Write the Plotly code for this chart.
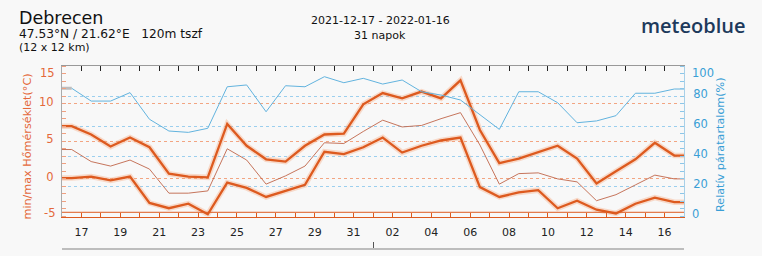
import plotly.graph_objects as go
import pandas as pd

# ---------------- data ----------------
days = pd.date_range("2021-12-16 12:00", "2022-01-16 12:00", freq="D")
t_max = [7.0, 5.9, 4.3, 5.5, 4.2, 0.7, 0.3, 0.2, 7.3, 4.4, 2.6, 2.3, 4.4, 5.9, 6.0, 9.9,
         11.4, 10.7, 11.6, 10.7, 13.1, 6.5, 2.1, 2.7, 3.6, 4.4, 2.7, -0.6, 1.0, 2.6, 4.8, 3.1]
t_mean = [3.9, 2.3, 1.7, 2.5, 1.3, -1.9, -1.9, -1.6, 4.0, 2.5, -0.7, 0.4, 1.7, 4.8, 4.7, 6.3,
          7.8, 6.9, 7.1, 8.0, 8.8, 4.5, -0.7, 0.7, 0.8, 0.0, -0.4, -2.9, -2.1, -0.8, 0.5, 0.0]
t_min = [0.1, 0.3, -0.2, 0.3, -3.2, -3.9, -3.3, -4.7, -0.5, -1.2, -2.4, -1.6, -0.8, 3.6, 3.3, 4.2,
         5.5, 3.5, 4.4, 5.1, 5.5, -1.1, -2.4, -1.8, -1.5, -3.9, -2.9, -4.1, -4.6, -3.3, -2.5, -3.1]
humidity = [85.2, 76.7, 76.7, 82.3, 64.6, 56.8, 55.9, 58.6, 86.2, 87.4, 69.6, 86.9, 86.2, 92.9, 88.9, 91.8,
            88.0, 90.7, 82.9, 80.7, 77.4, 67.4, 57.9, 82.9, 82.9, 75.6, 62.3, 63.5, 67.0, 81.9, 81.9, 84.7]

temp_ticks = [0, 5, 10]
temp_end_ticks = [15, -5]
hum_ticks = [20, 40, 60, 80]
hum_end_ticks = [100, 0]
month_marks = ["2022-01-01"]

title_city = "Debrecen"
title_coords = "47.53°N / 21.62°E   120m tszf"
title_grid = "(12 x 12 km)"
title_dates = "2021-12-17 - 2022-01-16"
title_days = "31 napok"
brand = "meteoblue"
ytitle_left = "min/max Hőmérséklet(°C)"
ytitle_right = "Relatív páratartalom(%)"

# ---------------- styling ----------------
FONT = "DejaVu Sans"
ORANGE = "#dd5a1f"
ORANGE_TXT = "#e4683a"
BLUE_TXT = "#3a9fd6"
BG = "#f8f8f8"

x_lo = pd.Timestamp("2021-12-16 00:00")
x_hi = pd.Timestamp("2022-01-17 00:00")
DAY = 86400000

W, H = 762, 256
L, R, T, B = 62, 78, 66, 7
plot_w = W - L - R
full_h = H - T - B
ydom0 = 32.5 / full_h


def ext(v):
    return [v[0]] + list(v) + [v[-1]]


x_ext = [x_lo] + list(days) + [x_hi]

fig = go.Figure()

# humidity
fig.add_trace(go.Scatter(x=[x_lo, days[0]], y=[humidity[0], humidity[0]], yaxis="y2", mode="lines",
                         line=dict(color="#bdbdbd", width=3), showlegend=False, hoverinfo="skip"))
fig.add_trace(go.Scatter(x=list(days) + [x_hi], y=list(humidity) + [humidity[-1]], yaxis="y2", mode="lines",
                         line=dict(color="#62b3de", width=1), showlegend=False))
# mean temperature
fig.add_trace(go.Scatter(x=x_ext, y=ext(t_mean), mode="lines",
                         line=dict(color="#c0654a", width=0.9), showlegend=False))
# halos
for v in (t_max, t_min):
    fig.add_trace(go.Scatter(x=x_ext, y=ext(v), mode="lines",
                             line=dict(color="rgba(246,160,115,0.35)", width=5.5), showlegend=False,
                             hoverinfo="skip"))
for v in (t_max, t_min):
    fig.add_trace(go.Scatter(x=x_ext, y=ext(v), mode="lines",
                             line=dict(color=ORANGE, width=2.3), showlegend=False))

# dummy traces to register extra axes
fig.add_trace(go.Scatter(x=[x_lo, x_hi], y=[None, None], xaxis="x2", yaxis="y", showlegend=False,
                         hoverinfo="skip"))
fig.add_trace(go.Scatter(x=[x_lo, x_hi], y=[None, None], xaxis="x3", yaxis="y", showlegend=False,
                         hoverinfo="skip"))

fig.update_layout(
    width=W, height=H,
    margin=dict(l=L, r=R, t=T, b=B, pad=0),
    paper_bgcolor=BG, plot_bgcolor=BG,
    font=dict(family=FONT, size=11, color="#222"),
    showlegend=False,
    xaxis=dict(type="date", range=[x_lo, x_hi], anchor="y", tick0="2021-12-17", dtick=2 * DAY,
               tickformat="%d", ticks="inside", ticklen=4, tickcolor=ORANGE, tickwidth=1,
               minor=dict(dtick=DAY, tick0="2021-12-16", ticks="inside", ticklen=4, tickcolor=ORANGE,
                          showgrid=False),
               showline=True, linecolor=ORANGE, linewidth=1, showgrid=False, zeroline=False,
               tickfont=dict(size=11, color="#222"), ticklabelstandoff=5),
    xaxis2=dict(type="date", range=[x_lo, x_hi], overlaying="x", anchor="y", side="top",
                tick0="2021-12-16", dtick=DAY, ticks="inside", ticklen=5, tickcolor="#222",
                showticklabels=False, showline=True, linecolor="#999", showgrid=False, zeroline=False),
    xaxis3=dict(type="date", range=[x_lo, x_hi], overlaying="x", anchor="free", position=0,
                tickvals=month_marks, ticks="inside", ticklen=6, tickcolor="#555",
                showticklabels=False, showline=True, linecolor="#bdbdbd", linewidth=2,
                showgrid=False, zeroline=False),
    yaxis=dict(range=[-5, 15], domain=[ydom0, 1], tickvals=temp_ticks, ticks="",
               showgrid=True, gridcolor="#f2a582", griddash="3px,3px", gridwidth=1,
               minor=dict(dtick=1, tick0=0, ticks="inside", ticklen=4, tickcolor="#f0a080", showgrid=False),
               showline=True, linecolor="#aaaaaa", zeroline=False,
               tickfont=dict(size=11.5, color=ORANGE_TXT), ticklabelshift=-2, ticklabelstandoff=5),
    yaxis2=dict(range=[0, 100], overlaying="y", side="right", anchor="x", tickvals=hum_ticks, ticks="",
                showgrid=True, gridcolor="#9ccfee", griddash="3px,3px", gridwidth=1,
                minor=dict(dtick=5, tick0=0, ticks="inside", ticklen=4, tickcolor="#8cc6e8", showgrid=False),
                showline=True, linecolor="#a8d0e8", zeroline=False,
                tickfont=dict(size=11.5, color=BLUE_TXT), ticklabelshift=-2, ticklabelstandoff=6),
)

# extra orange line just above the bottom axis
fig.add_shape(type="line", xref="x domain", yref="y domain", x0=0, x1=1, y0=0.028, y1=0.028,
              line=dict(color=ORANGE, width=1))

ann = []
# end labels of the y axes, nudged inside like the original
for v, sh in zip(temp_end_ticks, [-6.5, 4]):
    ann.append(dict(text=str(v), xref="paper", x=0, xanchor="right", xshift=-5, yref="y", y=v,
                    yanchor="middle", yshift=sh, showarrow=False,
                    font=dict(size=11.5, color=ORANGE_TXT)))
for v, sh in zip(hum_end_ticks, [-6.5, 3]):
    ann.append(dict(text=str(v), xref="paper", x=1, xanchor="left", xshift=6, yref="y2", y=v,
                    yanchor="middle", yshift=sh, showarrow=False,
                    font=dict(size=11.5, color=BLUE_TXT)))


def px(x):
    return (x - L) / plot_w


def py(y):
    return (H - B - y) / full_h


ann += [
    dict(text=title_city, x=px(17), y=py(18), xanchor="left", yanchor="middle",
         font=dict(size=17.5, color="#111")),
    dict(text=title_coords, x=px(17), y=py(34.5), xanchor="left", yanchor="middle",
         font=dict(size=12.2, color="#111")),
    dict(text=title_grid, x=px(17), y=py(47), xanchor="left", yanchor="middle",
         font=dict(size=11, color="#111")),
    dict(text=title_dates, x=px(380), y=py(20.5), xanchor="center", yanchor="middle",
         font=dict(size=11, color="#111")),
    dict(text=title_days, x=px(380), y=py(35), xanchor="center", yanchor="middle",
         font=dict(size=11, color="#111")),
    dict(text=brand, x=px(693), y=py(26), xanchor="center", yanchor="middle",
         font=dict(size=20, color="#1d3a5c", family="Open Sans", weight=600)),
    dict(text=ytitle_left, x=px(27), y=py(146.5), xanchor="center", yanchor="middle", textangle=-90,
         font=dict(size=11.2, color=ORANGE_TXT)),
    dict(text=ytitle_right, x=px(720), y=py(145), xanchor="center", yanchor="middle", textangle=-90,
         font=dict(size=11.2, color=BLUE_TXT)),
]
for a in ann[4:]:
    a.setdefault("xref", "paper")
    a.setdefault("yref", "paper")
    a.setdefault("showarrow", False)
fig.update_layout(annotations=ann)

fig.write_html("out.html")
